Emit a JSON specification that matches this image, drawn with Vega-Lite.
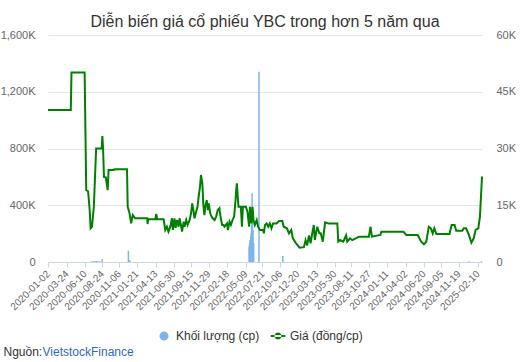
{
  "$schema": "https://vega.github.io/schema/vega-lite/v6.json",
  "width": 434,
  "height": 227,
  "autosize": {"type": "none"},
  "padding": {"left": 48, "top": 35, "right": 38, "bottom": 100},
  "background": "white",
  "config": {"font": "Liberation Sans", "view": {"stroke": null}},
  "title": {"text": "Diễn biến giá cổ phiếu YBC trong hơn 5 năm qua", "fontSize": 16, "fontWeight": "normal", "color": "#333333", "anchor": "middle", "baseline": "alphabetic", "offset": -14},
  "datasets": {
    "vol": [
      {"d": "2020-07-09", "v": 4000}, {"d": "2020-07-16", "v": 6000}, {"d": "2020-07-23", "v": 5000},
      {"d": "2020-07-30", "v": 8000}, {"d": "2020-08-06", "v": 6000}, {"d": "2020-08-13", "v": 5000},
      {"d": "2020-08-24", "v": 20000}, {"d": "2020-12-16", "v": 80000}, {"d": "2020-12-22", "v": 12000},
      {"d": "2022-05-24", "v": 108000}, {"d": "2022-05-26", "v": 130000}, {"d": "2022-05-28", "v": 155000},
      {"d": "2022-05-31", "v": 180000}, {"d": "2022-06-02", "v": 202000}, {"d": "2022-06-04", "v": 260000},
      {"d": "2022-06-06", "v": 484000}, {"d": "2022-06-08", "v": 300000}, {"d": "2022-06-10", "v": 225000},
      {"d": "2022-06-13", "v": 132000}, {"d": "2022-07-06", "v": 1341000}, {"d": "2022-10-17", "v": 42000},
      {"d": "2025-01-02", "v": 6000}, {"d": "2025-02-26", "v": 5000}
    ],
    "price": [
      {"d": "2020-01-02", "p": 40200}, {"d": "2020-04-10", "p": 40200}, {"d": "2020-04-13", "p": 50100},
      {"d": "2020-06-09", "p": 50100}, {"d": "2020-06-16", "p": 19000}, {"d": "2020-06-24", "p": 18700},
      {"d": "2020-07-01", "p": 13700}, {"d": "2020-07-05", "p": 8900}, {"d": "2020-07-11", "p": 9300},
      {"d": "2020-07-19", "p": 14600}, {"d": "2020-07-29", "p": 30000}, {"d": "2020-08-22", "p": 30000},
      {"d": "2020-08-25", "p": 33300}, {"d": "2020-08-28", "p": 30000}, {"d": "2020-09-01", "p": 22500},
      {"d": "2020-09-09", "p": 22400}, {"d": "2020-09-17", "p": 19000}, {"d": "2020-09-21", "p": 24300},
      {"d": "2020-10-14", "p": 24300}, {"d": "2020-10-17", "p": 24500}, {"d": "2020-12-10", "p": 24500},
      {"d": "2020-12-13", "p": 14600}, {"d": "2020-12-21", "p": 12860}, {"d": "2020-12-28", "p": 10200},
      {"d": "2021-01-04", "p": 12400}, {"d": "2021-01-14", "p": 11550}, {"d": "2021-03-08", "p": 11550},
      {"d": "2021-03-09", "p": 10040}, {"d": "2021-03-12", "p": 11290}, {"d": "2021-04-12", "p": 11290},
      {"d": "2021-04-16", "p": 12700}, {"d": "2021-04-20", "p": 11290}, {"d": "2021-05-18", "p": 11290},
      {"d": "2021-05-25", "p": 8460}, {"d": "2021-06-01", "p": 9330}, {"d": "2021-06-08", "p": 8010},
      {"d": "2021-06-16", "p": 9330}, {"d": "2021-06-23", "p": 11550}, {"d": "2021-06-27", "p": 8460},
      {"d": "2021-07-04", "p": 11550}, {"d": "2021-07-09", "p": 9000}, {"d": "2021-07-15", "p": 11100},
      {"d": "2021-07-22", "p": 9330}, {"d": "2021-07-26", "p": 11550}, {"d": "2021-08-01", "p": 9800},
      {"d": "2021-08-06", "p": 8010}, {"d": "2021-08-13", "p": 10650}, {"d": "2021-08-17", "p": 9330},
      {"d": "2021-08-24", "p": 11100}, {"d": "2021-08-30", "p": 9800}, {"d": "2021-09-08", "p": 11100},
      {"d": "2021-09-14", "p": 12860}, {"d": "2021-09-19", "p": 15500}, {"d": "2021-09-24", "p": 13740},
      {"d": "2021-09-29", "p": 11550}, {"d": "2021-10-06", "p": 13300}, {"d": "2021-10-12", "p": 14600},
      {"d": "2021-10-17", "p": 17260}, {"d": "2021-10-23", "p": 20000}, {"d": "2021-10-27", "p": 23000},
      {"d": "2021-11-02", "p": 20800}, {"d": "2021-11-06", "p": 15500}, {"d": "2021-11-11", "p": 12400},
      {"d": "2021-11-15", "p": 14600}, {"d": "2021-11-21", "p": 16390}, {"d": "2021-11-26", "p": 13740},
      {"d": "2021-11-30", "p": 15500}, {"d": "2021-12-06", "p": 12860}, {"d": "2021-12-12", "p": 12000},
      {"d": "2021-12-17", "p": 11550}, {"d": "2021-12-25", "p": 11100}, {"d": "2022-01-01", "p": 12000},
      {"d": "2022-01-08", "p": 13740}, {"d": "2022-01-15", "p": 14200}, {"d": "2022-01-21", "p": 11550},
      {"d": "2022-01-27", "p": 9800}, {"d": "2022-02-02", "p": 9800}, {"d": "2022-02-06", "p": 9330},
      {"d": "2022-02-17", "p": 10200}, {"d": "2022-02-21", "p": 8460}, {"d": "2022-02-28", "p": 10650},
      {"d": "2022-03-06", "p": 9800}, {"d": "2022-03-13", "p": 11100}, {"d": "2022-03-20", "p": 12000},
      {"d": "2022-03-25", "p": 15500}, {"d": "2022-03-29", "p": 19000}, {"d": "2022-04-01", "p": 20800},
      {"d": "2022-04-05", "p": 17000}, {"d": "2022-04-08", "p": 14600}, {"d": "2022-04-18", "p": 14600},
      {"d": "2022-04-23", "p": 9330}, {"d": "2022-04-27", "p": 14600}, {"d": "2022-05-10", "p": 14600},
      {"d": "2022-05-17", "p": 13300}, {"d": "2022-05-24", "p": 9330}, {"d": "2022-05-28", "p": 14600},
      {"d": "2022-06-03", "p": 10200}, {"d": "2022-06-08", "p": 14600}, {"d": "2022-06-12", "p": 11100},
      {"d": "2022-06-18", "p": 9800}, {"d": "2022-06-26", "p": 11100}, {"d": "2022-07-02", "p": 9330},
      {"d": "2022-07-10", "p": 8460}, {"d": "2022-07-24", "p": 8460}, {"d": "2022-07-27", "p": 7580},
      {"d": "2022-08-01", "p": 9800}, {"d": "2022-08-08", "p": 10200}, {"d": "2022-08-15", "p": 9330},
      {"d": "2022-08-22", "p": 10200}, {"d": "2022-08-29", "p": 8900}, {"d": "2022-09-05", "p": 10200},
      {"d": "2022-09-20", "p": 10200}, {"d": "2022-10-01", "p": 10840}, {"d": "2022-10-15", "p": 10840},
      {"d": "2022-10-21", "p": 9330}, {"d": "2022-11-04", "p": 8900}, {"d": "2022-11-13", "p": 7580},
      {"d": "2022-11-23", "p": 8460}, {"d": "2022-11-30", "p": 6260}, {"d": "2022-12-14", "p": 4940},
      {"d": "2022-12-29", "p": 3790}, {"d": "2023-01-17", "p": 3930}, {"d": "2023-01-24", "p": 5730},
      {"d": "2023-01-31", "p": 4400}, {"d": "2023-02-08", "p": 7050}, {"d": "2023-02-15", "p": 4940},
      {"d": "2023-02-22", "p": 7580}, {"d": "2023-03-01", "p": 9780}, {"d": "2023-03-05", "p": 5800},
      {"d": "2023-03-16", "p": 9330}, {"d": "2023-03-25", "p": 7580}, {"d": "2023-03-31", "p": 7580},
      {"d": "2023-04-09", "p": 5370}, {"d": "2023-04-19", "p": 10490}, {"d": "2023-05-03", "p": 10200},
      {"d": "2023-06-11", "p": 10200}, {"d": "2023-06-15", "p": 5370}, {"d": "2023-06-23", "p": 5800},
      {"d": "2023-07-07", "p": 5370}, {"d": "2023-07-19", "p": 7050}, {"d": "2023-07-24", "p": 5370},
      {"d": "2023-08-05", "p": 6260}, {"d": "2023-08-15", "p": 5800}, {"d": "2023-08-30", "p": 6260},
      {"d": "2023-09-13", "p": 6700}, {"d": "2023-10-26", "p": 6700}, {"d": "2023-11-02", "p": 9330},
      {"d": "2023-11-08", "p": 6700}, {"d": "2023-12-15", "p": 7150}, {"d": "2023-12-19", "p": 8010},
      {"d": "2024-03-24", "p": 8010}, {"d": "2024-04-05", "p": 7150}, {"d": "2024-05-25", "p": 7150},
      {"d": "2024-06-09", "p": 5370}, {"d": "2024-06-21", "p": 4670}, {"d": "2024-07-01", "p": 5370},
      {"d": "2024-07-12", "p": 9330}, {"d": "2024-07-21", "p": 8900}, {"d": "2024-07-29", "p": 7580},
      {"d": "2024-08-05", "p": 8900}, {"d": "2024-08-14", "p": 7400}, {"d": "2024-10-10", "p": 7400},
      {"d": "2024-10-19", "p": 9780}, {"d": "2024-11-01", "p": 9780}, {"d": "2024-11-08", "p": 8260},
      {"d": "2024-12-04", "p": 8260}, {"d": "2024-12-11", "p": 8900}, {"d": "2024-12-21", "p": 8900},
      {"d": "2025-01-02", "p": 7150}, {"d": "2025-01-13", "p": 5100}, {"d": "2025-01-23", "p": 6260},
      {"d": "2025-01-31", "p": 8460}, {"d": "2025-02-12", "p": 8900}, {"d": "2025-02-19", "p": 11970},
      {"d": "2025-02-28", "p": 22600}
    ]
  },
  "encoding": {
    "x": {
      "field": "d", "type": "temporal",
      "scale": {"type": "utc", "nice": false, "padding": 0},
      "axis": {
        "values": [
          {"year": 2020, "month": 1, "date": 2, "utc": true},
          {"year": 2020, "month": 3, "date": 24, "utc": true},
          {"year": 2020, "month": 6, "date": 10, "utc": true},
          {"year": 2020, "month": 8, "date": 24, "utc": true},
          {"year": 2020, "month": 11, "date": 6, "utc": true},
          {"year": 2021, "month": 1, "date": 21, "utc": true},
          {"year": 2021, "month": 4, "date": 13, "utc": true},
          {"year": 2021, "month": 6, "date": 30, "utc": true},
          {"year": 2021, "month": 9, "date": 15, "utc": true},
          {"year": 2021, "month": 11, "date": 29, "utc": true},
          {"year": 2022, "month": 2, "date": 18, "utc": true},
          {"year": 2022, "month": 5, "date": 9, "utc": true},
          {"year": 2022, "month": 7, "date": 21, "utc": true},
          {"year": 2022, "month": 10, "date": 6, "utc": true},
          {"year": 2022, "month": 12, "date": 20, "utc": true},
          {"year": 2023, "month": 3, "date": 13, "utc": true},
          {"year": 2023, "month": 5, "date": 30, "utc": true},
          {"year": 2023, "month": 8, "date": 11, "utc": true},
          {"year": 2023, "month": 10, "date": 27, "utc": true},
          {"year": 2024, "month": 1, "date": 11, "utc": true},
          {"year": 2024, "month": 4, "date": 2, "utc": true},
          {"year": 2024, "month": 6, "date": 20, "utc": true},
          {"year": 2024, "month": 9, "date": 5, "utc": true},
          {"year": 2024, "month": 11, "date": 19, "utc": true},
          {"year": 2025, "month": 2, "date": 10, "utc": true}
        ],
        "labelExpr": "utcFormat(datum.value, '%Y-%m-%d')",
        "labelAngle": -45, "labelAlign": "right", "labelBaseline": "middle",
        "labelFontSize": 10, "labelColor": "#666666", "labelPadding": 5,
        "labelOverlap": false, "labelFlush": false, "labelBound": false,
        "tickColor": "#ccd6eb", "tickSize": 5, "domainColor": "#ccd6eb", "grid": false,
        "title": "Nguồn:", "titleX": -45, "titleY": 93, "titleAlign": "left", "titleAngle": 0,
        "titleBaseline": "alphabetic", "titleFontSize": 12, "titleFontWeight": "normal", "titleColor": "#333333"
      }
    }
  },
  "layer": [
    {
      "data": {"name": "vol"},
      "mark": {"type": "bar", "size": 1.5},
      "encoding": {
        "y": {
          "field": "v", "type": "quantitative",
          "scale": {"domain": [0, 1600000], "nice": false},
          "axis": {
            "values": [0, 400000, 800000, 1200000, 1600000],
            "labelExpr": "datum.value == 0 ? '0' : format(datum.value / 1000, ',') + 'K'",
            "grid": true, "gridColor": "#e6e6e6", "domain": false, "ticks": false,
            "labelPadding": 13, "labelFontSize": 11, "labelColor": "#666666", "title": null
          }
        },
        "color": {
          "datum": "Khối lượng (cp)", "type": "nominal",
          "scale": {"domain": ["Khối lượng (cp)", "Giá (đồng/cp)"], "range": ["#7cb5ec", "#008000"]},
          "legend": {
            "orient": "none", "legendX": 110, "legendY": 295, "direction": "horizontal", "title": null,
            "labelFontSize": 12, "labelColor": "#333333", "symbolSize": 80, "labelOffset": 6,
            "columnPadding": 10, "symbolType": "circle",
            "encoding": {
              "symbols": {
                "shape": {"condition": {"test": "datum.value === 'Giá (đồng/cp)'", "value": "M-1.63,-0.22H1.63V0.22H-1.63Z M-0.78,0A0.78,0.78,0,1,0,0.78,0A0.78,0.78,0,1,0,-0.78,0Z"}, "value": "circle"},
                "fill": {"condition": {"test": "datum.value === 'Giá (đồng/cp)'", "value": "#008000"}, "value": "#7cb5ec"},
                "strokeWidth": {"value": 0},
                "opacity": {"value": 1}
              }
            }
          }
        }
      }
    },
    {
      "data": {"name": "price"},
      "mark": {"type": "line", "strokeWidth": 2},
      "encoding": {
        "y": {
          "field": "p", "type": "quantitative",
          "scale": {"domain": [0, 60000], "nice": false},
          "axis": {
            "orient": "right",
            "values": [0, 15000, 30000, 45000, 60000],
            "labelExpr": "datum.value == 0 ? '0' : format(datum.value / 1000, ',') + 'K'",
            "grid": false, "domain": false, "ticks": false,
            "labelPadding": 14, "labelFontSize": 11, "labelColor": "#666666",
            "title": "VietstockFinance", "titleAngle": 0, "titleX": -440, "titleY": 320,
            "titleAlign": "left", "titleBaseline": "alphabetic", "titleFontSize": 12,
            "titleFontWeight": "normal", "titleColor": "#3366cc"
          }
        },
        "color": {"datum": "Giá (đồng/cp)", "type": "nominal"}
      }
    }
  ],
  "resolve": {"scale": {"y": "independent"}}
}
